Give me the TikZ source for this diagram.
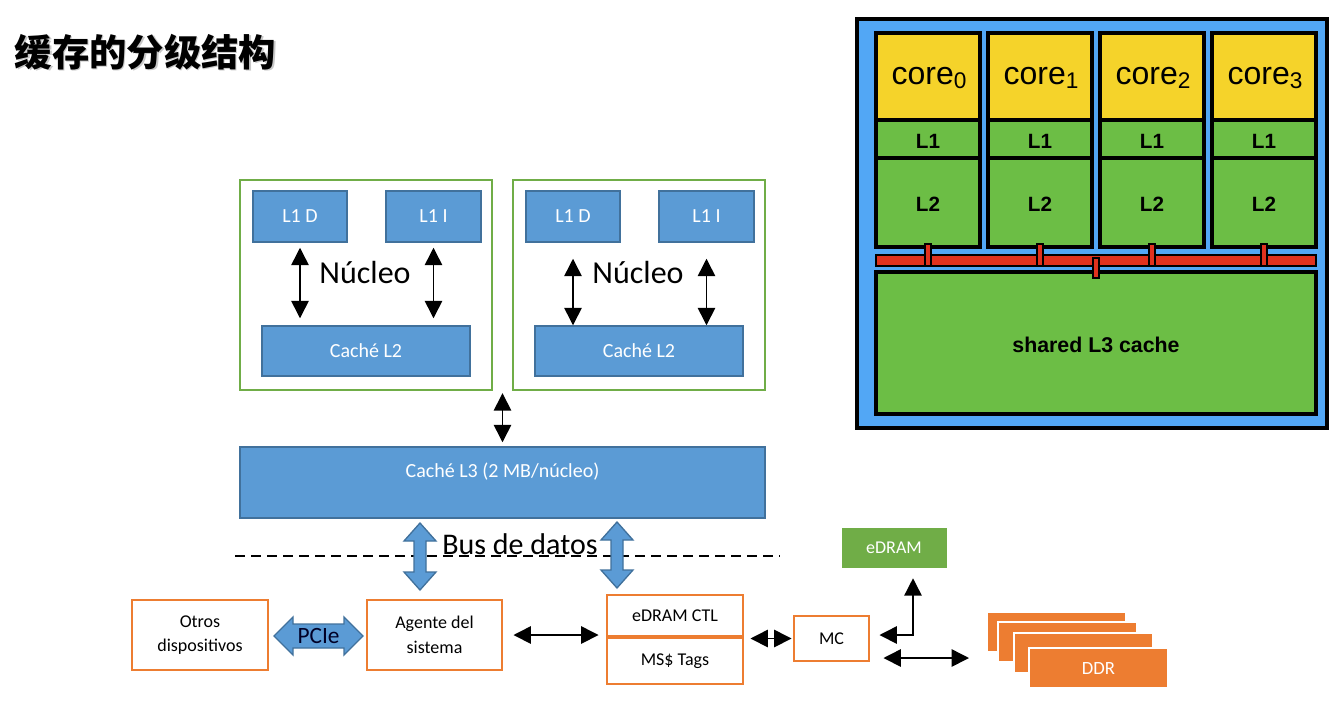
\documentclass[tikz,border=0pt]{standalone}
\usepackage{fontspec}
\setmainfont{Carlito}
\newfontfamily\cjk{Noto Sans CJK SC}
\newfontfamily\helv{Liberation Sans}
\usetikzlibrary{arrows.meta,positioning}

\newdimen\px \px=0.75pt

\definecolor{cacheblue}{HTML}{5B9BD5}
\definecolor{blueedge}{HTML}{41719C}
\definecolor{framegreen}{HTML}{70AD47}
\definecolor{unitorange}{HTML}{ED7D31}
\definecolor{panelblue}{HTML}{52A7F5}
\definecolor{coreyellow}{HTML}{F5D32A}
\definecolor{cachegreen}{HTML}{6CBE45}
\definecolor{busred}{HTML}{E0321E}

% fat double arrow, vertical: x, top, bottom
\newcommand{\vbus}[3]{%
  \filldraw[busarrow] (#1,#2) -- (#1+16,#2+18) -- (#1+6,#2+18) -- (#1+6,#3-18)
    -- (#1+16,#3-18) -- (#1,#3) -- (#1-16,#3-18) -- (#1-6,#3-18)
    -- (#1-6,#2+18) -- (#1-16,#2+18) -- cycle;}

\begin{document}
\begin{tikzpicture}[x=0.75pt,y=-0.75pt,
    >={Triangle[width=13pt,length=13pt]},
    link/.style={<->,line width=1.1pt},
    cachebox/.style={draw=blueedge,line width=1.1pt,fill=cacheblue,text=white,
                     font=\fontsize{15}{18}\selectfont,inner sep=0pt},
    corebox/.style={draw=framegreen,line width=1.8pt,inner sep=0pt},
    unitbox/.style={draw=unitorange,line width=2.2pt,fill=white,align=center,
                    font=\fontsize{13.5}{18.5}\selectfont,inner sep=0pt},
    ddrbox/.style={draw=white,line width=1.5pt,fill=unitorange,text=white,
                   minimum width=139\px,minimum height=40\px,inner sep=0pt,
                   font=\fontsize{14}{17}\selectfont},
    busarrow/.style={fill=cacheblue,draw=blueedge,line width=1pt},
    cell/.style={draw=black,line width=2.5pt},
  ]
\useasboundingbox[fill=white] (0,0) rectangle (1330,701);

% title
\node[anchor=west,text=black!30,opacity=.7,font=\cjk\bfseries\fontsize{28}{34}\selectfont]
  at (11.5,53.5) {缓存的分级结构};
\node[anchor=west,font=\cjk\bfseries\fontsize{28}{34}\selectfont]
  (title) at (10,52) {缓存的分级结构};

% the two cores
\foreach \i/\xo/\s/\e in {0/0/5/7,1/273/16/0} {
  \node[corebox,minimum width=252\px,minimum height=210\px] (nucleo\i) at (366+\xo,285) {};
  \node[cachebox,minimum width=94\px,minimum height=51\px]  (l1d\i) at (300+\xo,216.5) {L1 D};
  \node[cachebox,minimum width=95\px,minimum height=51\px]  (l1i\i) at (433.5+\xo,216.5) {L1 I};
  \node[cachebox,minimum width=208\px,minimum height=50\px] (l2\i) at (366+\xo,351) {Caché L2};
  \node[font=\fontsize{24}{28}\selectfont] (ntext\i) at (365+\xo,272) {Núcleo};
  \draw[link,shorten <=\s\px,shorten >=\e\px] (l1d\i.south) -- (l1d\i.south |- l2\i.north);
  \draw[link,shorten <=\s\px,shorten >=\e\px] (l1i\i.south) -- (l1i\i.south |- l2\i.north);
}

% shared L3
\node[cachebox,minimum width=525\px,minimum height=71\px] (l3) at (502.5,482.5) {};
\node[text=white,font=\fontsize{15}{18}\selectfont] (l3txt) at (502.5,472) {Caché L3 (2 MB/núcleo)};
\draw[link,shorten <=2\px,shorten >=4\px] (nucleo0.south -| l3.north) -- (l3.north);

% data bus
\draw[line width=1.1pt,dash pattern=on 7.5pt off 4.5pt] (235,556) -- (780,556);
\vbus{420}{523}{590}
\vbus{617}{522}{588}
\node[font=\fontsize{22.5}{27}\selectfont] (bus) at (520,544) {Bus de datos};

% system units
\node[unitbox,minimum width=136\px,minimum height=70\px] (otros) at (200,635) {Otros\\dispositivos};
\node[unitbox,minimum width=135\px,minimum height=70\px] (agente) at (434.5,635) {Agente del\\sistema};
\node[unitbox,minimum width=136\px,minimum height=41\px] (ctl) at (675,615.5) {eDRAM CTL};
\node[unitbox,minimum width=136\px,minimum height=46\px] (tags) at (675,661) {MS\$ Tags};
\node[unitbox,minimum width=75\px,minimum height=45\px] (mc) at (831.5,638.5) {MC};
\node[fill=framegreen,text=white,minimum width=105\px,minimum height=40\px,inner sep=0pt,
      font=\fontsize{13.5}{17}\selectfont] (edram) at (894,548) {eDRAM};

% PCIe link
\filldraw[busarrow] (274,636) -- (293,617) -- (293,624) -- (344,624) -- (344,617)
  -- (363,636) -- (344,655) -- (344,648) -- (293,648) -- (293,655) -- cycle;
\node[text=black!85!blue,font=\fontsize{17.5}{20}\selectfont] (pcie) at (318.5,636) {PCIe};

% DDR stack
\foreach \n/\x/\y in {0/1056.5/632,1/1067.5/642,2/1083.5/653}
  \node[ddrbox] (ddr\n) at (\x,\y) {};
\node[ddrbox] (ddr3) at (1098.5,668) {DDR};

% links
\draw[link,shorten <=10\px,shorten >=7\px] (agente.east) -- (agente.east -| ctl.west);
\draw[link,shorten <=6\px,shorten >=1\px] (mc.west -| ctl.east) -- (mc.west);
\draw[link] ([xshift=9\px,yshift=3.5\px]mc.east) -| ([xshift=19\px,yshift=-10\px]edram.south);
\coordinate (mcddr) at ([xshift=13\px,yshift=-19.5\px]mc.east);
\draw[link,shorten >=28\px] (mcddr) -- (mcddr -| ddr1.west);

% multi-core chip
\filldraw[fill=panelblue,draw=black,line width=2.5pt] (857,19) rectangle (1327,428);
\filldraw[fill=cachegreen,cell] (876,272) rectangle (1316,414);
\node[font=\helv\bfseries\fontsize{16}{19}\selectfont] (l3shared) at (1096,345) {shared L3 cache};
\filldraw[fill=busred,draw=black,line width=1.5pt] (876,255) rectangle (1316,266);
\foreach \i in {0,...,3} {
  \pgfmathsetmacro{\xa}{876+112*\i}
  \filldraw[fill=coreyellow,cell] (\xa,33) rectangle (\xa+104,120);
  \filldraw[fill=cachegreen,cell] (\xa,120) rectangle (\xa+104,158);
  \filldraw[fill=cachegreen,cell] (\xa,158) rectangle (\xa+104,247);
  \node[font=\helv\fontsize{24}{28}\selectfont] (core\i) at (\xa+53,78)
    {core{\fontsize{17}{20}\selectfont\raisebox{-3pt}{\i}}};
  \node[font=\helv\bfseries\fontsize{15.5}{18}\selectfont] (pl1\i) at (\xa+52,141) {L1};
  \node[font=\helv\bfseries\fontsize{15.5}{18}\selectfont] (pl2\i) at (\xa+52,204) {L2};
  \filldraw[fill=busred,draw=black,line width=1.5pt] (\xa+49,244) rectangle (\xa+55,266);
}
\filldraw[fill=busred,draw=black,line width=1.5pt] (1093,258) rectangle (1099,278);
\end{tikzpicture}
\end{document}
